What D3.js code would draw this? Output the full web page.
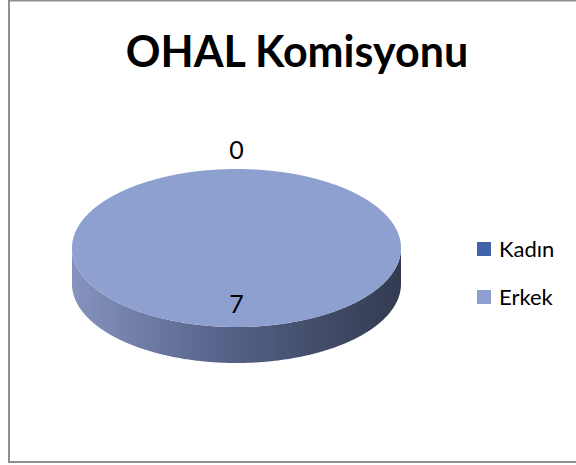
<!DOCTYPE html>
<html>
<head>
<meta charset="utf-8">
<script src="https://cdn.jsdelivr.net/npm/d3@7"></script>
<style>
  html, body { margin: 0; padding: 0; background: #fff; }
  svg { display: block; }
</style>
</head>
<body>
<svg id="chart" width="576" height="465"></svg>
<script>
// ---- data ----
const title = "OHAL Komisyonu";
const categories = ["Kadın", "Erkek"];
const values = [0, 7];
const colors = ["#3F63A9", "#8DA0D0"];

// ---- layout ----
const W = 576, H = 465;
const svg = d3.select("#chart");

// chart border
svg.append("rect")
  .attr("x", 9).attr("y", 0.5)
  .attr("width", 620).attr("height", 461.5)
  .attr("fill", "#fff")
  .attr("stroke", "#8f8f8f").attr("stroke-width", 2);

// title
svg.append("text")
  .attr("x", 297).attr("y", 67)
  .attr("text-anchor", "middle")
  .attr("font-family", "Lato, 'Open Sans', sans-serif")
  .attr("font-weight", "bold")
  .attr("font-size", 43)
  .attr("fill", "#000")
  .text(title);

// 3D pie geometry
const cx = 236.5, cy = 248, rx = 164.5, ry = 79, depth = 36;
const pie = d3.pie().sort(null).value(d => d)(values);

// scales mapping "unit radius" to ellipse coordinates
const sx = d3.scaleLinear().domain([-1, 1]).range([cx - rx, cx + rx]);
const sy = d3.scaleLinear().domain([-1, 1]).range([cy - ry, cy + ry]);
const pt = (a, r = 1, dz = 0) => [sx(r * Math.sin(a)), sy(-r * Math.cos(a)) + dz];

const defs = svg.append("defs");
const grad = defs.append("linearGradient")
  .attr("id", "sideGrad")
  .attr("gradientUnits", "userSpaceOnUse")
  .attr("x1", cx - rx).attr("x2", cx + rx)
  .attr("y1", 0).attr("y2", 0);
grad.append("stop").attr("offset", "0%").attr("stop-color", "#8593be");
grad.append("stop").attr("offset", "45%").attr("stop-color", "#57638a");
grad.append("stop").attr("offset", "100%").attr("stop-color", "#323b50");

const line = d3.line();
function sample(a0, a1, dz) {
  const n = Math.max(2, Math.ceil(Math.abs(a1 - a0) / 0.01));
  return d3.range(n + 1).map(i => pt(a0 + (a1 - a0) * i / n, 1, dz));
}

// side walls (front half only: angles PI/2 .. 3PI/2)
pie.forEach((d, i) => {
  if (d.endAngle - d.startAngle <= 0) return;
  const a0 = Math.max(d.startAngle, Math.PI / 2);
  const a1 = Math.min(d.endAngle, 3 * Math.PI / 2);
  if (a1 <= a0) return;
  const topEdge = sample(a0, a1, 0);
  const botEdge = sample(a1, a0, depth);
  svg.append("path")
    .attr("d", line(topEdge.concat(botEdge)) + "Z")
    .attr("fill", "url(#sideGrad)");
});

// top faces
pie.forEach((d, i) => {
  if (d.endAngle - d.startAngle <= 0) return;
  const full = (d.endAngle - d.startAngle) >= 2 * Math.PI - 1e-9;
  let pts = sample(d.startAngle, d.endAngle, 0);
  if (!full) pts = [[cx, cy]].concat(pts);
  svg.append("path")
    .attr("d", line(pts) + "Z")
    .attr("fill", colors[i]);
});

// data labels
pie.forEach((d, i) => {
  const mid = (d.startAngle + d.endAngle) / 2;
  const r = d.value === 0 ? 1.24 : 0.71;
  const p = pt(mid, r);
  svg.append("text")
    .attr("x", p[0]).attr("y", p[1])
    .attr("dy", "0.35em")
    .attr("text-anchor", "middle")
    .attr("font-family", "Lato, 'Open Sans', sans-serif")
    .attr("font-size", 25)
    .attr("fill", "#000")
    .text(d.value);
});

// legend
const ly = d3.scalePoint().domain(categories).range([249, 297]);
const leg = svg.append("g");
categories.forEach((c, i) => {
  leg.append("rect")
    .attr("x", 477).attr("y", ly(c) - 7)
    .attr("width", 14).attr("height", 14)
    .attr("fill", colors[i]);
  leg.append("text")
    .attr("x", 499).attr("y", ly(c))
    .attr("dy", "0.35em")
    .attr("font-family", "Lato, 'Open Sans', sans-serif")
    .attr("font-size", 22)
    .attr("fill", "#000")
    .text(c);
});
</script>
</body>
</html>
